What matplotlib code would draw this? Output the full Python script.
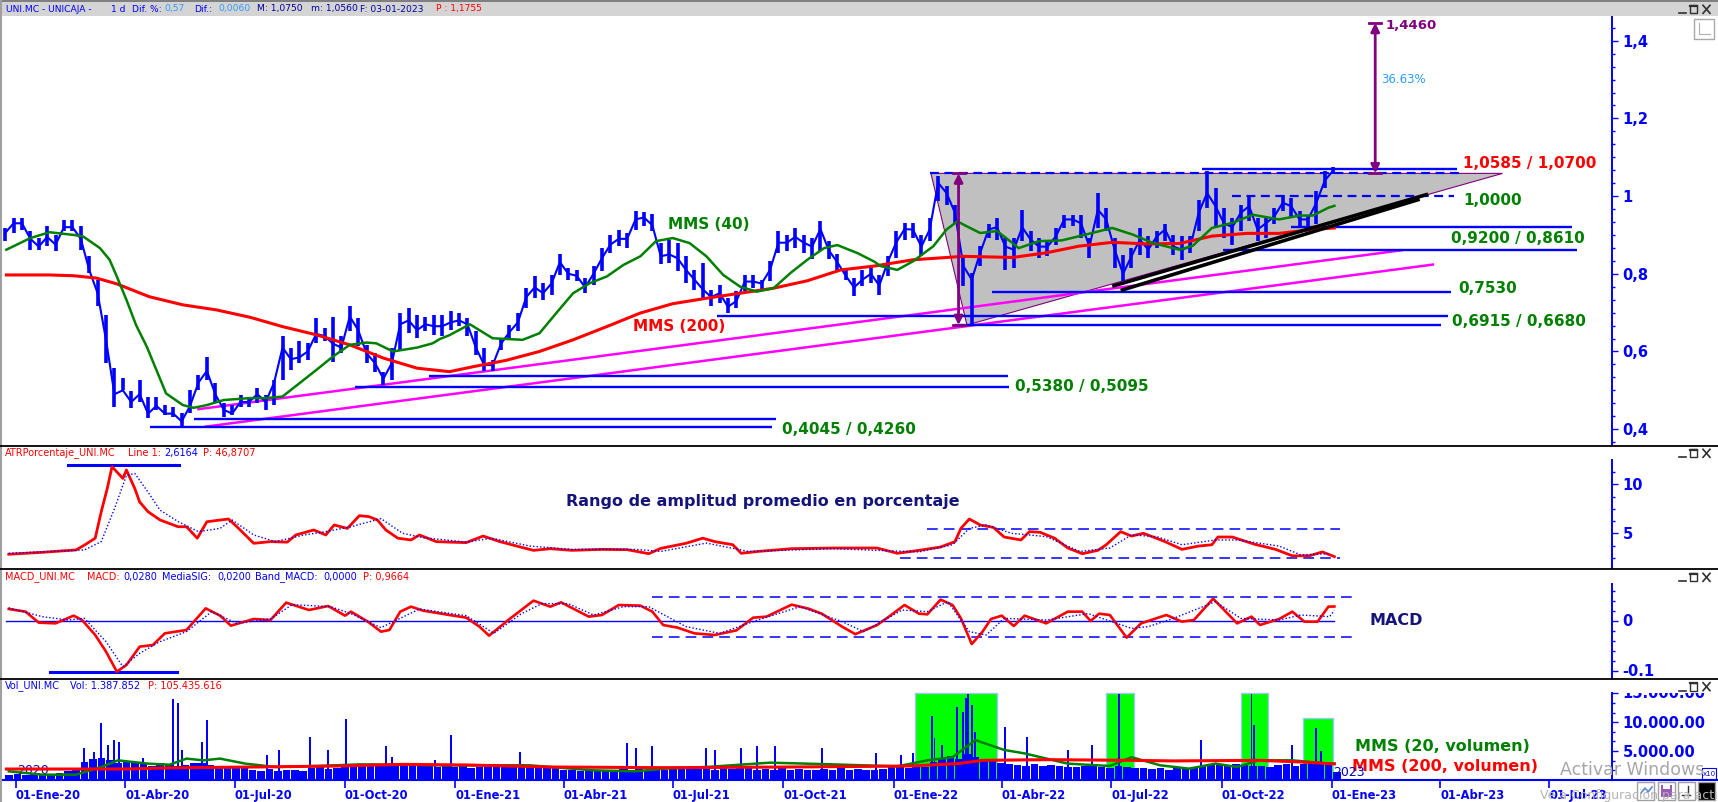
import matplotlib
matplotlib.use('Agg')
import matplotlib.pyplot as plt
import matplotlib.dates as mdates
from matplotlib.patches import Rectangle, Polygon
from matplotlib.ticker import FixedLocator
from matplotlib.transforms import Bbox, offset_copy
import numpy as np
import pandas as pd

plt.rcParams['font.family'] = ['DejaVu Sans']

W, H = 1718, 802
BLUE = '#0000FF'
GREEN = '#008000'
RED = '#FF0000'
MAGENTA = '#FF00FF'
PURPLE = '#800080'
NAVY = '#14147A'

# ---------------- data ----------------
# weekly bars, week starting on Monday 2019-12-23
week_dates = pd.date_range('2019-12-23', periods=159, freq='7D')

price_close = [
    0.905, 0.93, 0.93, 0.89, 0.87, 0.895, 0.875, 0.92, 0.92, 0.89,
    0.81, 0.75, 0.63, 0.49, 0.50, 0.47, 0.49, 0.44, 0.46, 0.44,
    0.44, 0.42, 0.46, 0.52, 0.55, 0.49, 0.45, 0.44, 0.47, 0.47,
    0.49, 0.47, 0.52, 0.61, 0.58, 0.585, 0.60, 0.645, 0.64, 0.62,
    0.61, 0.69, 0.655, 0.595, 0.57, 0.53, 0.57, 0.67, 0.68, 0.655,
    0.67, 0.665, 0.665, 0.675, 0.68, 0.67, 0.61, 0.565, 0.565, 0.62,
    0.65, 0.675, 0.74, 0.765, 0.75, 0.775, 0.83, 0.80, 0.795, 0.765,
    0.80, 0.84, 0.875, 0.89, 0.89, 0.94, 0.945, 0.925, 0.845, 0.85,
    0.84, 0.81, 0.785, 0.76, 0.74, 0.75, 0.715, 0.73, 0.78, 0.78,
    0.775, 0.81, 0.88, 0.88, 0.895, 0.88, 0.87, 0.915, 0.86, 0.83,
    0.795, 0.765, 0.785, 0.80, 0.77, 0.83, 0.88, 0.915, 0.914, 0.87,
    0.914, 1.034, 1.008, 0.957, 0.82, 0.785, 0.854, 0.914, 0.92, 0.87,
    0.862, 0.92, 0.888, 0.87, 0.87, 0.896, 0.94, 0.94, 0.93, 0.87,
    0.965, 0.94, 0.862, 0.80, 0.845, 0.888, 0.862, 0.896, 0.914, 0.87,
    0.862, 0.87, 0.957, 1.008, 0.974, 0.93, 0.92, 0.957, 0.974, 0.914,
    0.93, 0.948, 0.983, 0.974, 0.94, 0.94, 0.983, 1.04, 1.066,
]
price_high = [
    0.918, 0.944, 0.944, 0.910, 0.893, 0.923, 0.901, 0.938, 0.938, 0.923,
    0.845, 0.785, 0.695, 0.557, 0.531, 0.497, 0.527, 0.484, 0.484, 0.463,
    0.458, 0.441, 0.501, 0.540, 0.587, 0.518, 0.467, 0.463, 0.488, 0.484,
    0.506, 0.488, 0.527, 0.639, 0.609, 0.626, 0.622, 0.686, 0.660, 0.690,
    0.639, 0.716, 0.686, 0.617, 0.596, 0.548, 0.609, 0.699, 0.712, 0.695,
    0.690, 0.695, 0.695, 0.703, 0.699, 0.686, 0.652, 0.609, 0.579, 0.635,
    0.669, 0.699, 0.764, 0.794, 0.776, 0.798, 0.850, 0.815, 0.811, 0.789,
    0.819, 0.867, 0.901, 0.914, 0.905, 0.961, 0.959, 0.953, 0.880, 0.888,
    0.880, 0.845, 0.811, 0.828, 0.759, 0.772, 0.738, 0.755, 0.798, 0.798,
    0.785, 0.832, 0.910, 0.901, 0.918, 0.901, 0.893, 0.936, 0.884, 0.850,
    0.815, 0.789, 0.811, 0.819, 0.798, 0.845, 0.909, 0.931, 0.931, 0.901,
    0.944, 1.051, 1.026, 0.978, 0.845, 0.802, 0.871, 0.927, 0.944, 0.892,
    0.892, 0.965, 0.909, 0.892, 0.888, 0.918, 0.952, 0.952, 0.952, 0.892,
    1.008, 0.970, 0.892, 0.849, 0.866, 0.918, 0.897, 0.909, 0.927, 0.901,
    0.897, 0.897, 0.991, 1.064, 1.021, 0.970, 0.944, 0.978, 1.004, 0.944,
    0.944, 0.970, 1.004, 0.996, 0.961, 0.952, 1.013, 1.064, 1.075,
]
price_low = [
    0.884, 0.905, 0.914, 0.862, 0.862, 0.871, 0.858, 0.910, 0.910, 0.862,
    0.802, 0.716, 0.570, 0.458, 0.501, 0.454, 0.471, 0.428, 0.450, 0.437,
    0.432, 0.405, 0.441, 0.501, 0.527, 0.471, 0.432, 0.437, 0.458, 0.458,
    0.467, 0.450, 0.463, 0.527, 0.553, 0.570, 0.579, 0.622, 0.626, 0.574,
    0.596, 0.652, 0.613, 0.570, 0.548, 0.514, 0.527, 0.604, 0.647, 0.635,
    0.652, 0.643, 0.639, 0.656, 0.665, 0.639, 0.592, 0.549, 0.549, 0.604,
    0.635, 0.652, 0.712, 0.738, 0.733, 0.746, 0.798, 0.785, 0.781, 0.751,
    0.772, 0.807, 0.854, 0.871, 0.867, 0.914, 0.923, 0.910, 0.824, 0.828,
    0.807, 0.776, 0.759, 0.738, 0.716, 0.725, 0.699, 0.712, 0.755, 0.764,
    0.755, 0.781, 0.854, 0.858, 0.867, 0.854, 0.837, 0.858, 0.837, 0.807,
    0.785, 0.742, 0.768, 0.776, 0.746, 0.794, 0.841, 0.888, 0.892, 0.845,
    0.884, 0.987, 0.978, 0.927, 0.768, 0.669, 0.819, 0.892, 0.888, 0.811,
    0.815, 0.884, 0.858, 0.841, 0.845, 0.875, 0.918, 0.922, 0.892, 0.841,
    0.918, 0.909, 0.815, 0.781, 0.815, 0.849, 0.841, 0.866, 0.884, 0.849,
    0.836, 0.854, 0.909, 0.970, 0.918, 0.892, 0.875, 0.909, 0.935, 0.884,
    0.892, 0.927, 0.961, 0.944, 0.918, 0.918, 0.927, 1.021, 1.056,
]
vol_week = [  # thousands of shares, typical level of each week
    900, 1000, 800, 1100, 950, 1000, 1200, 1500, 1800,
    3200, 3600, 3800, 3400, 3000, 3300, 2900,
    2800, 2500, 3000, 2700, 2400, 2600, 2900,
    3000, 2600, 2500, 2200, 2400, 2000,
    1700, 1600, 1900, 1500, 1800, 1700, 1600,
    2000, 2200, 1900, 2100, 2300,
    2600, 2800, 2500, 2400, 2700, 2600, 2900, 2500, 2600, 2400,
    2300, 2500, 2200, 2400, 2100, 2300, 2200, 2400,
    2600, 2500, 2700, 2400, 2600, 2500, 2300,
    1800, 1700, 1600, 1900, 1700, 1800, 1600,
    1900, 1800, 2000, 1700, 1900, 1800,
    2000, 2100, 1900, 2200, 2000, 1800, 2100, 1900, 2000, 2100,
    1800, 1900, 1700, 2000, 1800, 1900, 1700, 1800,
    1900, 1800, 2000, 1700, 1900, 1800, 1700, 1900,
    2200, 2400, 2100, 2500, 2300,
    3200, 3800, 4200, 3600, 4500, 4000, 3700, 3400, 3000,
    2800, 2600, 2500, 2700, 2400, 2600, 2500, 2300,
    2200, 2400, 2600, 2300, 2100, 2400, 2200, 2000,
    2000, 1900, 2100, 1800, 2000, 1900, 2200, 2400,
    2800, 2600, 2500, 2700, 2600, 2400, 2500, 2300,
    2600, 2800, 2500, 2700, 2900, 3000, 2800, 1400,
]
vol_spikes = [
    ('2020-02-27', 5500), ('2020-03-06', 4800), ('2020-03-12', 9800), ('2020-03-18', 6000),
    ('2020-03-23', 6900), ('2020-03-27', 6600), ('2020-04-16', 3800), ('2020-05-11', 14000),
    ('2020-05-15', 13300), ('2020-05-18', 5200), ('2020-06-04', 6600), ('2020-06-08', 10400),
    ('2020-07-28', 4300), ('2020-08-07', 5200), ('2020-09-02', 7500), ('2020-09-17', 5200),
    ('2020-10-02', 10550), ('2020-11-04', 5800), ('2020-11-09', 4000), ('2020-12-15', 3500),
    ('2020-12-28', 7700), ('2021-02-24', 4900), ('2021-05-24', 6350), ('2021-05-31', 5500),
    ('2021-06-14', 5800), ('2021-07-29', 5500), ('2021-08-05', 5200), ('2021-08-27', 5600),
    ('2021-09-09', 5800), ('2021-09-24', 5800), ('2021-11-02', 5500), ('2021-12-17', 4600),
    ('2022-01-07', 4300), ('2022-01-17', 4600), ('2022-02-02', 11000), ('2022-02-04', 7200),
    ('2022-02-10', 6100), ('2022-02-23', 12700), ('2022-02-28', 11800), ('2022-03-02', 14100),
    ('2022-03-04', 14900), ('2022-03-07', 12900), ('2022-03-10', 8300), ('2022-04-04', 9200),
    ('2022-04-22', 7500), ('2022-05-26', 5200), ('2022-06-15', 6100), ('2022-07-08', 14900),
    ('2022-09-14', 6900), ('2022-10-26', 14900), ('2022-10-28', 9500), ('2022-11-29', 6100),
    ('2022-12-19', 9000), ('2022-12-23', 5000),
]

mms40 = [
    ('2019-12-24', 0.862), ('2020-01-13', 0.892), ('2020-01-29', 0.907), ('2020-02-18', 0.900),
    ('2020-02-26', 0.896), ('2020-03-11', 0.866), ('2020-03-19', 0.836), ('2020-03-25', 0.793),
    ('2020-04-02', 0.733), ('2020-04-10', 0.668), ('2020-04-19', 0.612), ('2020-04-27', 0.552),
    ('2020-05-05', 0.492), ('2020-05-19', 0.462), ('2020-05-28', 0.455), ('2020-06-08', 0.462),
    ('2020-06-22', 0.475), ('2020-07-14', 0.480), ('2020-07-28', 0.480), ('2020-08-10', 0.484),
    ('2020-08-24', 0.518), ('2020-09-07', 0.552), ('2020-09-21', 0.587), ('2020-10-05', 0.617),
    ('2020-10-19', 0.623), ('2020-10-27', 0.621), ('2020-11-10', 0.600), ('2020-11-30', 0.610),
    ('2020-12-13', 0.621), ('2020-12-19', 0.632), ('2020-12-27', 0.642), ('2021-01-13', 0.670),
    ('2021-02-01', 0.634), ('2021-02-26', 0.630), ('2021-03-12', 0.647), ('2021-03-26', 0.699),
    ('2021-04-09', 0.750), ('2021-04-23', 0.776), ('2021-05-07', 0.793), ('2021-05-21', 0.823),
    ('2021-06-04', 0.845), ('2021-06-17', 0.884), ('2021-07-01', 0.892), ('2021-07-15', 0.879),
    ('2021-07-29', 0.845), ('2021-08-12', 0.797), ('2021-08-26', 0.767), ('2021-09-09', 0.754),
    ('2021-09-23', 0.763), ('2021-10-07', 0.802), ('2021-10-21', 0.836), ('2021-11-04', 0.866),
    ('2021-11-15', 0.874), ('2021-12-02', 0.853), ('2021-12-16', 0.831), ('2021-12-21', 0.820),
    ('2022-01-04', 0.810), ('2022-01-17', 0.832), ('2022-02-03', 0.871), ('2022-02-14', 0.914),
    ('2022-02-23', 0.935), ('2022-03-03', 0.922), ('2022-03-14', 0.905), ('2022-03-28', 0.910),
    ('2022-04-10', 0.879), ('2022-04-15', 0.866), ('2022-05-02', 0.884), ('2022-05-21', 0.886),
    ('2022-06-10', 0.901), ('2022-07-02', 0.918), ('2022-07-19', 0.901), ('2022-08-05', 0.879),
    ('2022-08-27', 0.862), ('2022-09-07', 0.872), ('2022-09-23', 0.918), ('2022-10-10', 0.931),
    ('2022-10-27', 0.952), ('2022-11-18', 0.940), ('2022-12-05', 0.950), ('2022-12-16', 0.950),
    ('2022-12-29', 0.970), ('2023-01-03', 0.975),
]
mms200 = [
    ('2019-12-24', 0.797), ('2020-01-29', 0.797), ('2020-02-18', 0.795), ('2020-03-08', 0.789),
    ('2020-03-25', 0.774), ('2020-04-21', 0.741), ('2020-05-19', 0.720), ('2020-06-16', 0.707),
    ('2020-07-14', 0.688), ('2020-08-10', 0.664), ('2020-09-07', 0.643), ('2020-10-05', 0.617),
    ('2020-11-02', 0.583), ('2020-11-30', 0.557), ('2020-12-27', 0.548), ('2021-01-16', 0.561),
    ('2021-02-12', 0.577), ('2021-03-12', 0.600), ('2021-04-09', 0.630), ('2021-05-07', 0.664),
    ('2021-06-04', 0.699), ('2021-07-01', 0.723), ('2021-07-29', 0.737), ('2021-08-26', 0.750),
    ('2021-09-23', 0.763), ('2021-10-21', 0.782), ('2021-11-18', 0.810), ('2021-12-16', 0.820),
    ('2022-01-17', 0.836), ('2022-02-28', 0.845), ('2022-04-10', 0.842), ('2022-05-08', 0.854),
    ('2022-06-04', 0.871), ('2022-07-02', 0.881), ('2022-07-30', 0.877), ('2022-08-27', 0.878),
    ('2022-09-23', 0.897), ('2022-10-22', 0.904), ('2022-11-18', 0.904), ('2022-12-16', 0.914),
    ('2023-01-03', 0.918),
]

# drawn levels on the price panel
level_vals = [0.4045, 0.4260, 0.5095, 0.5380, 0.6680, 0.6915, 0.7530, 0.8610, 0.9200, 1.0700]
level_from = ['2020-04-22', '2020-05-28', '2020-10-09', '2020-12-10', '2022-02-21',
              '2021-08-07', '2022-03-24', '2022-10-02', '2022-11-28', '2022-09-15']
level_to = ['2021-09-22', '2021-09-25', '2022-04-07', '2022-04-06', '2023-04-02',
            '2023-04-08', '2023-04-10', '2023-07-24', '2023-07-20', '2023-04-15']
dashed_vals = [1.0585, 1.0000]
dashed_from = ['2022-01-31', '2022-10-10']
dashed_to = ['2023-04-19', '2023-04-13']
support_lines = [(('2020-06-01', 0.4514), ('2023-02-28', 0.8606)),
                 (('2020-06-07', 0.4065), ('2023-03-26', 0.8237))]
black_lines = [(('2022-07-02', 0.768), ('2023-03-22', 1.005)),
               (('2022-07-09', 0.757), ('2023-03-15', 0.992))]
triangle = [('2022-02-01', 1.0585), ('2022-03-03', 0.668), ('2023-05-23', 1.0585)]
arrows = [('2022-02-24', 0.668, 1.0585), ('2023-02-06', 1.0585, 1.446)]

atr_line = [
    ('2019-12-26', 2.86), ('2020-01-23', 3.06), ('2020-02-20', 3.30), ('2020-02-27', 3.80),
    ('2020-03-07', 4.50), ('2020-03-12', 7.20), ('2020-03-17', 9.56), ('2020-03-21', 11.80),
    ('2020-03-30', 10.60), ('2020-04-02', 11.46), ('2020-04-09', 9.56), ('2020-04-13', 8.20),
    ('2020-04-20', 7.20), ('2020-04-30', 6.36), ('2020-05-15', 5.67), ('2020-05-22', 5.67),
    ('2020-05-31', 4.50), ('2020-06-08', 6.18), ('2020-06-26', 6.46), ('2020-07-03', 5.67),
    ('2020-07-17', 3.98), ('2020-07-31', 4.15), ('2020-08-14', 4.10), ('2020-08-21', 4.83),
    ('2020-09-05', 5.34), ('2020-09-15', 4.83), ('2020-09-22', 5.85), ('2020-10-03', 5.50),
    ('2020-10-13', 6.80), ('2020-10-21', 6.70), ('2020-10-28', 6.36), ('2020-11-04', 5.34),
    ('2020-11-14', 4.50), ('2020-11-25', 4.32), ('2020-12-02', 4.83), ('2020-12-16', 4.15),
    ('2020-12-27', 4.10), ('2021-01-10', 4.05), ('2021-01-24', 4.72), ('2021-02-07', 4.15),
    ('2021-02-21', 3.70), ('2021-03-07', 3.26), ('2021-03-21', 3.43), ('2021-04-08', 3.26),
    ('2021-05-03', 3.36), ('2021-05-24', 3.33), ('2021-06-11', 2.92), ('2021-06-21', 3.46),
    ('2021-07-12', 3.98), ('2021-07-26', 4.50), ('2021-08-05', 4.15), ('2021-08-20', 3.83),
    ('2021-08-27', 2.96), ('2021-09-10', 3.15), ('2021-10-08', 3.43), ('2021-11-12', 3.50),
    ('2021-12-18', 3.50), ('2022-01-04', 2.96), ('2022-01-22', 3.26), ('2022-02-09', 3.60),
    ('2022-02-21', 4.15), ('2022-02-26', 5.51), ('2022-03-05', 6.46), ('2022-03-14', 5.85),
    ('2022-03-25', 5.60), ('2022-04-03', 4.62), ('2022-04-17', 4.32), ('2022-04-24', 5.17),
    ('2022-05-03', 5.10), ('2022-05-15', 4.50), ('2022-05-26', 3.50), ('2022-06-07', 2.92),
    ('2022-06-20', 3.26), ('2022-06-27', 3.83), ('2022-07-09', 5.17), ('2022-07-18', 4.72),
    ('2022-07-28', 5.00), ('2022-08-15', 4.15), ('2022-08-29', 3.36), ('2022-09-12', 3.70),
    ('2022-09-23', 3.83), ('2022-09-28', 4.62), ('2022-10-10', 4.62), ('2022-10-28', 3.90),
    ('2022-11-15', 3.36), ('2022-11-29', 2.70), ('2022-12-13', 2.70), ('2022-12-24', 3.10),
    ('2023-01-03', 2.62),
]
atr_signal = [
    ('2019-12-26', 2.96), ('2020-02-27', 3.30), ('2020-03-12', 4.15), ('2020-03-23', 7.50),
    ('2020-04-02', 10.90), ('2020-04-09', 11.10), ('2020-04-20', 9.20), ('2020-04-30', 7.36),
    ('2020-05-15', 6.20), ('2020-06-01', 5.17), ('2020-06-19', 5.50), ('2020-06-29', 6.36),
    ('2020-07-17', 4.83), ('2020-08-04', 4.15), ('2020-08-28', 4.83), ('2020-09-15', 5.17),
    ('2020-10-06', 5.67), ('2020-10-31', 6.50), ('2020-11-18', 5.00), ('2020-12-05', 4.56),
    ('2021-01-10', 4.10), ('2021-01-31', 4.50), ('2021-03-04', 3.70), ('2021-04-08', 3.36),
    ('2021-05-31', 3.36), ('2021-06-21', 3.15), ('2021-07-29', 4.00), ('2021-09-02', 3.15),
    ('2021-11-12', 3.43), ('2022-01-22', 3.10), ('2022-02-19', 3.83), ('2022-03-05', 5.50),
    ('2022-03-19', 5.85), ('2022-04-09', 5.00), ('2022-05-08', 4.66), ('2022-06-05', 3.15),
    ('2022-06-30', 3.50), ('2022-07-18', 4.83), ('2022-08-08', 4.66), ('2022-08-29', 3.83),
    ('2022-09-26', 4.32), ('2022-10-14', 4.32), ('2022-11-18', 3.70), ('2022-12-06', 2.80),
    ('2022-12-30', 2.92),
]

macd_line = [
    ('2019-12-26', 0.023), ('2020-01-09', 0.0177), ('2020-01-20', -0.0043), ('2020-02-03', -0.0057),
    ('2020-02-18', 0.0097), ('2020-02-25', 0.001), ('2020-03-07', -0.029), ('2020-03-16', -0.0623),
    ('2020-03-25', -0.1023), ('2020-04-02', -0.089), ('2020-04-13', -0.0523), ('2020-04-24', -0.049),
    ('2020-05-04', -0.0257), ('2020-05-22', -0.019), ('2020-06-07', 0.0243), ('2020-06-19', 0.0097),
    ('2020-06-28', -0.0103), ('2020-07-17', 0.003), ('2020-07-31', 0.001), ('2020-08-13', 0.0357),
    ('2020-09-01', 0.021), ('2020-09-17', 0.029), ('2020-10-01', 0.0097), ('2020-10-06', 0.0177),
    ('2020-10-20', -0.0023), ('2020-10-31', -0.0223), ('2020-11-07', -0.019), ('2020-11-16', 0.0177),
    ('2020-11-25', 0.0277), ('2020-12-05', 0.0197), ('2020-12-27', 0.011), ('2021-01-10', 0.0057),
    ('2021-01-21', -0.0123), ('2021-01-29', -0.0303), ('2021-02-14', 0.001), ('2021-03-07', 0.0397),
    ('2021-03-21', 0.0277), ('2021-03-30', 0.0363), ('2021-04-22', 0.0077), ('2021-05-03', 0.011),
    ('2021-05-17', 0.031), ('2021-06-04', 0.0297), ('2021-06-14', 0.0177), ('2021-06-23', -0.009),
    ('2021-07-05', -0.0143), ('2021-07-19', -0.0257), ('2021-08-05', -0.029), ('2021-08-23', -0.0197),
    ('2021-09-06', 0.0057), ('2021-09-17', 0.0077), ('2021-10-08', 0.0317), ('2021-10-22', 0.0237),
    ('2021-11-02', 0.0137), ('2021-11-19', -0.0123), ('2021-11-30', -0.0273), ('2021-12-18', -0.0093),
    ('2021-12-28', 0.0077), ('2022-01-10', 0.031), ('2022-01-22', 0.0137), ('2022-01-29', 0.0123),
    ('2022-02-09', 0.0417), ('2022-02-19', 0.031), ('2022-02-26', 0.0043), ('2022-03-07', -0.0471),
    ('2022-03-16', -0.0223), ('2022-03-23', 0.003), ('2022-04-01', 0.0097), ('2022-04-11', -0.011),
    ('2022-04-20', 0.0097), ('2022-05-08', -0.0057), ('2022-05-26', 0.0177), ('2022-06-07', 0.0177),
    ('2022-06-14', -0.001), ('2022-06-21', 0.0137), ('2022-06-30', 0.011), ('2022-07-14', -0.0343),
    ('2022-07-26', -0.0057), ('2022-08-16', 0.011), ('2022-08-29', -0.0023), ('2022-09-08', 0.001),
    ('2022-09-24', 0.0437), ('2022-10-14', -0.0057), ('2022-10-26', 0.0077), ('2022-11-02', -0.009),
    ('2022-11-18', 0.003), ('2022-11-29', 0.0177), ('2022-12-09', -0.0023), ('2022-12-20', -0.0023),
    ('2022-12-29', 0.0277), ('2023-01-03', 0.028),
]
macd_signal = [
    ('2019-12-26', 0.0253), ('2020-01-23', 0.0077), ('2020-02-13', 0.001), ('2020-02-27', 0.0043),
    ('2020-03-16', -0.0423), ('2020-03-30', -0.0923), ('2020-04-13', -0.0657), ('2020-04-30', -0.0423),
    ('2020-05-22', -0.0223), ('2020-06-12', 0.0177), ('2020-07-03', -0.0057), ('2020-07-31', 0.003),
    ('2020-08-18', 0.0317), ('2020-09-19', 0.0277), ('2020-10-06', 0.0137), ('2020-10-31', -0.0143),
    ('2020-12-02', 0.023), ('2021-01-10', 0.0097), ('2021-02-02', -0.0257), ('2021-02-25', 0.0137),
    ('2021-03-14', 0.0337), ('2021-04-05', 0.0337), ('2021-04-26', 0.011), ('2021-05-21', 0.0277),
    ('2021-06-11', 0.0277), ('2021-07-12', -0.0123), ('2021-08-09', -0.0257), ('2021-09-10', 0.001),
    ('2021-10-15', 0.0277), ('2021-11-19', -0.0023), ('2021-12-07', -0.0223), ('2022-01-08', 0.021),
    ('2022-01-29', 0.0177), ('2022-02-15', 0.0377), ('2022-03-05', -0.0223), ('2022-03-19', -0.029),
    ('2022-04-03', 0.0043), ('2022-05-08', 0.001), ('2022-06-12', 0.0137), ('2022-07-18', -0.0157),
    ('2022-08-01', -0.0123), ('2022-08-22', 0.0043), ('2022-09-26', 0.0377), ('2022-10-17', 0.0043),
    ('2022-11-18', 0.001), ('2022-12-06', 0.011), ('2022-12-30', 0.0077), ('2023-01-03', 0.02),
]

vol_mms200 = [
    ('2019-12-24', 1900), ('2020-04-02', 1900), ('2020-05-08', 2100), ('2020-07-17', 2250),
    ('2020-09-26', 2420), ('2020-11-18', 2700), ('2021-01-10', 2600), ('2021-03-21', 2250),
    ('2021-06-24', 2130), ('2021-10-08', 2250), ('2022-01-15', 2420), ('2022-02-23', 2830),
    ('2022-03-16', 3400), ('2022-05-08', 3520), ('2022-07-18', 3400), ('2022-08-22', 3300),
    ('2022-11-01', 3400), ('2022-12-06', 3120), ('2022-12-30', 2830), ('2023-01-03', 2800),
]
vol_mms20 = [
    ('2019-12-26', 1500), ('2020-01-23', 920), ('2020-02-20', 920), ('2020-03-12', 2250),
    ('2020-03-26', 3400), ('2020-04-20', 2830), ('2020-05-08', 2650), ('2020-05-22', 3700),
    ('2020-06-05', 3400), ('2020-06-19', 3700), ('2020-07-10', 2830), ('2020-08-04', 2250),
    ('2020-09-08', 2420), ('2020-10-13', 2700), ('2020-11-18', 2650), ('2020-12-23', 2540),
    ('2021-03-04', 2540), ('2021-03-21', 2250), ('2021-04-26', 1670), ('2021-05-31', 1500),
    ('2021-06-24', 1960), ('2021-07-29', 2250), ('2021-09-20', 3000), ('2021-11-12', 2700),
    ('2022-01-04', 2360), ('2022-01-29', 3400), ('2022-02-19', 3950), ('2022-03-10', 6900),
    ('2022-04-03', 5200), ('2022-04-20', 4600), ('2022-05-26', 2830), ('2022-06-30', 2420),
    ('2022-07-18', 3950), ('2022-08-11', 2540), ('2022-09-04', 1960), ('2022-09-26', 2830),
    ('2022-10-14', 2250), ('2022-11-01', 3400), ('2022-11-29', 3400), ('2022-12-30', 2830),
    ('2023-01-03', 2800),
]
vol_zone_from = ['2022-01-19', '2022-06-27', '2022-10-17', '2022-12-08']
vol_zone_to = ['2022-03-28', '2022-07-20', '2022-11-09', '2023-01-02']
vol_zone_top = [15000, 15000, 15000, 10670]

xtick_dates = ['2020-01-01', '2020-04-01', '2020-07-01', '2020-10-01', '2021-01-01',
               '2021-04-01', '2021-07-01', '2021-10-01', '2022-01-01', '2022-04-01',
               '2022-07-01', '2022-10-01', '2023-01-01', '2023-04-01', '2023-07-01']
xtick_labels = ['01-Ene-20', '01-Abr-20', '01-Jul-20', '01-Oct-20', '01-Ene-21',
                '01-Abr-21', '01-Jul-21', '01-Oct-21', '01-Ene-22', '01-Abr-22',
                '01-Jul-22', '01-Oct-22', '01-Ene-23', '01-Abr-23', '01-Jul-23']


def D(s):
    return mdates.date2num(pd.Timestamp(s))


def unzip(pairs):
    return [pd.Timestamp(d) for d, _ in pairs], [v for _, v in pairs]


def px(x0, y0, x1, y1):
    # pixel box (top-left origin) -> figure fraction rect
    return [x0 / W, 1 - y1 / H, (x1 - x0) / W, (y1 - y0) / H]


fig = plt.figure(figsize=(W / 100, H / 100), dpi=100)
fig.patch.set_facecolor('white')

ax_main = fig.add_axes(px(3, 16, 1612, 445))
ax_atr = fig.add_axes(px(3, 446, 1612, 568), sharex=ax_main)
ax_macd = fig.add_axes(px(3, 570, 1612, 678), sharex=ax_main)
ax_vol = fig.add_axes(px(3, 679, 1612, 780), sharex=ax_main)

# ---------------- price panel ----------------
ax_main.vlines(week_dates, price_low, price_high, color=BLUE, lw=2.6, zorder=3)
ax_main.plot(week_dates, price_close, color=BLUE, lw=1.5, zorder=3)

ax_main.add_patch(Polygon([(D(d), v) for d, v in triangle], closed=True,
                          fc='#C0C0C0', ec=PURPLE, lw=0.8, zorder=1))
for (d0, v0), (d1, v1) in support_lines:
    ax_main.plot([D(d0), D(d1)], [v0, v1], color=MAGENTA, lw=1.8, zorder=2)
ax_main.hlines(level_vals, [D(d) for d in level_from], [D(d) for d in level_to],
               colors=BLUE, lw=1.7, zorder=2.5)
for v, d0, d1 in zip(dashed_vals, dashed_from, dashed_to):
    ax_main.plot([D(d0), D(d1)], [v, v], color=BLUE, lw=1.6, ls=(0, (4, 2.5)), zorder=2.5)

d, v = unzip(mms200)
ax_main.plot(d, v, color=RED, lw=2.2, zorder=4)
d, v = unzip(mms40)
ax_main.plot(d, v, color=GREEN, lw=1.8, zorder=4)

for (d0, v0), (d1, v1) in black_lines:
    ax_main.plot([D(d0), D(d1)], [v0, v1], color='black', lw=2.6, zorder=5,
                 solid_capstyle='butt')

for d0, v0, v1 in arrows:
    x = D(d0)
    ax_main.annotate('', xy=(x, v1), xytext=(x, v0),
                     arrowprops=dict(arrowstyle='<|-|>,head_length=0.5,head_width=0.25',
                                     color=PURPLE, lw=2, shrinkA=0, shrinkB=0), zorder=6)
    for vv in (v0, v1):
        ax_main.plot([x - 5, x + 5], [vv, vv], color=PURPLE, lw=2, zorder=6)

lbl = dict(fontsize=11, fontweight='bold', va='center', ha='left', clip_on=False, zorder=7)
ax_main.text(D('2023-04-20'), 1.0836, '1,0585 / 1,0700', color=RED, **lbl)
ax_main.text(D('2023-04-20'), 0.988, '1,0000', color=GREEN, **lbl)
ax_main.text(D('2023-04-10'), 0.890, '0,9200 / 0,8610', color=GREEN, **lbl)
ax_main.text(D('2023-04-16'), 0.762, '0,7530', color=GREEN, **lbl)
ax_main.text(D('2023-04-11'), 0.677, '0,6915 / 0,6680', color=GREEN, **lbl)
ax_main.text(D('2022-04-12'), 0.5097, '0,5380 / 0,5095', color=GREEN, **lbl)
ax_main.text(D('2021-09-30'), 0.3997, '0,4045 / 0,4260', color=GREEN, **lbl)
ax_main.text(D('2021-06-27'), 0.927, 'MMS (40)', color=GREEN, **lbl)
ax_main.text(D('2021-05-29'), 0.6645, 'MMS (200)', color=RED, **lbl)
ax_main.text(D('2023-02-15'), 1.438, '1,4460', color=PURPLE, fontsize=9.5,
             fontweight='bold', va='center', ha='left')
ax_main.text(D('2023-02-11'), 1.301, '36.63%', color='#2E9BFF', fontsize=8.5,
             va='center', ha='left')

# ---------------- ATR panel ----------------
d, v = unzip(atr_line)
ax_atr.plot(d, v, color=RED, lw=2.0, zorder=3)
d, v = unzip(atr_signal)
ax_atr.plot(d, v, color=BLUE, lw=1.0, ls=(0, (1, 1.5)), zorder=4)
ax_atr.plot([D('2020-02-13'), D('2020-05-16')], [11.97, 11.97], color=BLUE, lw=2.2)
ax_atr.plot([D('2022-01-29'), D('2023-01-08')], [5.4, 5.4], color=BLUE, lw=1.1, ls=(0, (7, 4)))
ax_atr.plot([D('2022-01-06'), D('2023-01-08')], [2.5, 2.5], color=BLUE, lw=1.1, ls=(0, (7, 4)))
ax_atr.text(D('2021-04-03'), 8.22, 'Rango de amplitud promedio en porcentaje',
            color=NAVY, fontsize=11.5, fontweight='bold', va='center', ha='left')

# ---------------- MACD panel ----------------
ax_macd.plot([D('2019-12-24'), D('2023-01-03')], [0, 0], color=BLUE, lw=1.0)
ax_macd.plot([D('2020-01-29'), D('2020-05-14')], [-0.1023, -0.1023], color=BLUE, lw=2.2)
for lev in (0.0477, -0.0337):
    ax_macd.plot([D('2021-06-14'), D('2023-01-18')], [lev, lev], color=BLUE, lw=1.1,
                 ls=(0, (7, 4)))
d, v = unzip(macd_line)
ax_macd.plot(d, v, color=RED, lw=1.9, zorder=3)
d, v = unzip(macd_signal)
ax_macd.plot(d, v, color=BLUE, lw=1.0, ls=(0, (1, 1.5)), zorder=4)
ax_macd.text(D('2023-02-01'), 0.0, 'MACD', color=NAVY, fontsize=11.5,
             fontweight='bold', va='center', ha='left')

# ---------------- volume panel ----------------
for d0, d1, top in zip(vol_zone_from, vol_zone_to, vol_zone_top):
    ax_vol.add_patch(Rectangle((D(d0), 0), D(d1) - D(d0), top, fc='#00FF00',
                               ec='#9CC8FF', lw=1, zorder=1))
ax_vol.bar(week_dates, vol_week, width=6.3, align='edge', color=BLUE, zorder=2)
d, v = unzip(vol_spikes)
ax_vol.bar(d, v, width=1.6, color=BLUE, zorder=2)
d, v = unzip(vol_mms20)
ax_vol.plot(d, v, color=GREEN, lw=1.8, zorder=3)
d, v = unzip(vol_mms200)
ax_vol.plot(d, v, color=RED, lw=2.2, zorder=3)
ax_vol.text(D('2023-01-20'), 5760, 'MMS (20, volumen)', color=GREEN, fontsize=11.5,
            fontweight='bold', va='center', ha='left', clip_on=False, zorder=5)
ax_vol.text(D('2023-01-18'), 2300, 'MMS (200, volumen)', color=RED, fontsize=11.5,
            fontweight='bold', va='center', ha='left', clip_on=False, zorder=5)
ax_vol.text(D('2020-01-02'), 1730, '2020', color='#0000C0', fontsize=9, va='center',
            ha='left', zorder=2.5)
ax_vol.text(D('2023-01-02'), 1380, '2023', color='#0000C0', fontsize=9, va='center',
            ha='left', zorder=5)


# ---------------- axes styling ----------------
def right_axis(ax, lo, hi, spine_top, majors, labels, minors):
    ax.set_ylim(lo, hi)
    for s in ('top', 'left', 'bottom'):
        ax.spines[s].set_visible(False)
    ax.spines['right'].set_color(BLUE)
    ax.spines['right'].set_linewidth(1.4)
    ax.spines['right'].set_bounds(lo, spine_top)
    ax.yaxis.tick_right()
    ax.set_yticks(majors, labels, fontweight='bold')
    ax.yaxis.set_minor_locator(FixedLocator(minors))
    ax.tick_params(axis='y', which='major', length=4.2, width=1.0, color=BLUE,
                   labelcolor=BLUE, labelsize=10.5, pad=3.5)
    ax.tick_params(axis='y', which='minor', length=2.4, width=1.0, color=BLUE)
    ax.tick_params(axis='x', which='both', bottom=False, labelbottom=False)


right_axis(ax_main, 0.3592, 1.4637, 1.4637, [0.4, 0.6, 0.8, 1.0, 1.2, 1.4],
           ['0,4', '0,6', '0,8', '1', '1,2', '1,4'], np.arange(11, 44) / 30)
right_axis(ax_atr, 1.459, 13.908, 12.48, [5, 10], ['5', '10'], np.arange(2, 10) * 1.25)
right_axis(ax_macd, -0.115, 0.101, 0.0724, [-0.1, 0], ['-0.1', '0'],
           np.arange(-5, 4) * 0.02)
right_axis(ax_vol, 0, 17473, 15000, [5000, 10000, 15000], ['5.000.00', '10.000.00', ''],
           np.arange(1, 10) * 5000 / 3)

t15 = fig.text(1, 15000, '15.000.00', color=BLUE, fontsize=10.5, fontweight='bold',
               va='center', ha='left',
               transform=offset_copy(ax_vol.get_yaxis_transform(), fig=fig, x=10.7, y=0,
                                     units='dots'))
t15.set_clip_box(Bbox.from_extents(0, 0, W, H - 693.3))
t15.set_clip_on(True)

ax_vol.spines['bottom'].set_visible(True)
ax_vol.spines['bottom'].set_color(BLUE)
ax_vol.spines['bottom'].set_linewidth(1.5)
ax_vol.set_xticks([D(s) for s in xtick_dates], xtick_labels, fontweight='bold',
                  horizontalalignment='left')
ax_vol.tick_params(axis='x', which='major', bottom=True, labelbottom=True, length=5.8,
                   width=1.2, color=BLUE, labelcolor=BLUE, labelsize=8.3, pad=0.5,
                   direction='out')
ax_vol.tick_params(axis='x', which='minor', bottom=False)

t0 = D('2020-01-01')
ax_main.set_xlim(t0 - 10.8, t0 + 1329.2)

# ---------------- window chrome (pixel overlay) ----------------
ov = fig.add_axes([0, 0, 1, 1], zorder=10)
ov.set_xlim(0, W)
ov.set_ylim(H, 0)
ov.axis('off')

ov.add_patch(Rectangle((0, 0), W, 16, fc='#D4D4D4', ec='none'))
ov.plot([0, W], [0.5, 0.5], color='#6E6E6E', lw=1.2)
ov.plot([1, 1], [0, H], color='#A0A0A0', lw=1.5)
for yy in (445.5, 569.2, 678.5):
    ov.plot([0, W], [yy, yy], color='black', lw=1.3)
ov.plot([1612, W], [780, 780], color=BLUE, lw=1.5)


def buttons(y):
    ov.plot([1679, 1686], [y + 4, y + 4], color='#303030', lw=1.2)
    ov.add_patch(Rectangle((1690, y - 4), 7, 8, fc='none', ec='#303030', lw=1.0))
    ov.plot([1690, 1697], [y - 3.5, y - 3.5], color='#303030', lw=1.6)
    ov.plot([1703, 1710], [y - 4, y + 4], color='#303030', lw=1.2)
    ov.plot([1703, 1710], [y + 4, y - 4], color='#303030', lw=1.2)


for yy in (9.3, 453.3, 577.3, 686.7):
    buttons(yy)

ov.add_patch(Rectangle((1694, 19), 20, 20, fc='white', ec='#A8A8A8', lw=1))
ov.plot([1699, 1699, 1710], [23, 34, 34], color='#B0B0B0', lw=0.8)


def header(y, parts, size):
    for x, s, c in parts:
        ov.text(x, y, s, color=c, fontsize=size, va='center', ha='left')


LB = '#3399FF'
DB = '#0000A0'
header(9, [(6, 'UNI.MC - UNICAJA -', BLUE), (111, '1 d', BLUE), (132, 'Dif. %:', BLUE),
           (164.6, '0,57', LB), (194.4, 'Dif.:', BLUE), (218, '0,0060', LB),
           (257, 'M: 1,0750', DB), (310.8, 'm: 1,0560', DB), (360.5, 'F: 03-01-2023', DB),
           (436, 'P : 1,1755', RED)], 6.6)
header(453, [(5, 'ATRPorcentaje_UNI.MC', RED), (128.3, 'Line 1:', RED),
             (164, '2,6164', BLUE), (202.7, 'P: 46,8707', RED)], 7)
header(577, [(5, 'MACD_UNI.MC', RED), (87, 'MACD:', RED), (123.8, '0,0280', BLUE),
             (162.4, 'MediaSIG:', BLUE), (217, '0,0200', BLUE), (255.3, 'Band_MACD:', BLUE),
             (323.6, '0,0000', BLUE), (362.6, 'P: 0,9664', RED)], 7)
header(686, [(5, 'Vol_UNI.MC', BLUE), (70, 'Vol: 1.387.852', BLUE),
             (147.6, 'P: 105.435.616', RED)], 7)

# "x10" box and toolbar
ov.add_patch(Rectangle((1702, 768), 14, 11, fc='white', ec=BLUE, lw=0.8))
ov.text(1709, 773.5, 'x10', color=BLUE, fontsize=5, ha='center', va='center')
ov.text(1560, 770, 'Activar Windows', color='#A6A6A6', fontsize=12.5, va='center',
        ha='left')
ov.text(1540, 795, 'Ve a Configuración para activar Windows.', color='#B4B4B4',
        fontsize=9, va='center', ha='left')
for x0, fc in ((1637, 'white'), (1658, 'white'), (1678, 'white'), (1698, 'black')):
    ov.add_patch(Rectangle((x0, 782), 17, 18, fc=fc, ec='#A0A0A0', lw=1))
ov.plot([1641, 1645, 1648, 1652], [793, 788, 792, 787], color='#5A8AC8', lw=1.2)
ov.add_patch(Rectangle((1661, 785), 11, 12, fc='#9A5AB8', ec='none'))
ov.add_patch(Rectangle((1663, 785), 7, 4, fc='white', ec='none'))
ov.plot([1682, 1690], [795, 795], color='#303030', lw=1)
ov.plot([1688, 1688], [786, 795], color='#303030', lw=1)

fig.savefig('out.png', dpi=100, facecolor='white')
